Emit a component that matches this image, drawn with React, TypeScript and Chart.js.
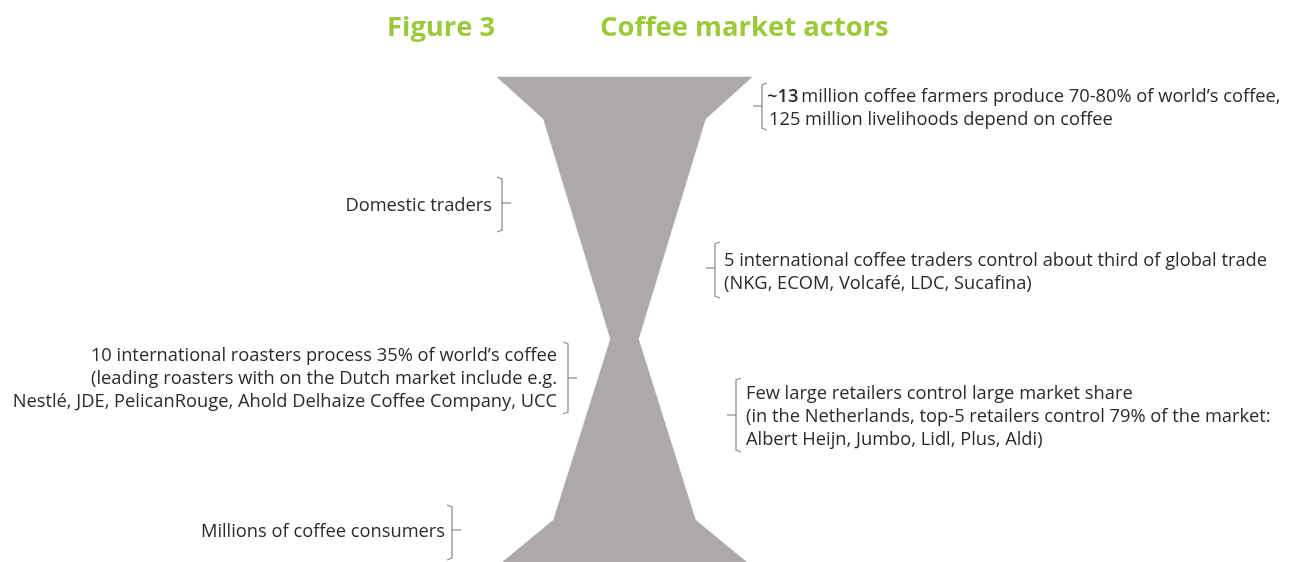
import React, { useEffect, useRef } from "react";
import { Chart, registerables } from "chart.js";

Chart.register(...registerables);

// ---------- DATA ----------
// Hourglass outline: vertical levels (top-down) and half-widths at each level
const shapeLevels = [77, 119, 339, 520, 562];
const shapeHalfWidths = [127.5, 81, 14, 71, 122];
const shapeCenter = 624.5;

const titleLabel = "Figure 3";
const titleText = "Coffee market actors";

const farmersLead = "~13";
const farmersLines = [
  "million coffee farmers produce 70-80% of world\u2019s coffee,",
  "125 million livelihoods depend on coffee",
];
const domesticLines = ["Domestic traders"];
const tradersLines = [
  "5 international coffee traders control about third of global trade",
  "(NKG, ECOM, Volcaf\u00e9, LDC, Sucafina)",
];
const roastersLines = [
  "10 international roasters process 35% of world\u2019s coffee",
  "(leading roasters with on the Dutch market include e.g.",
  "Nestl\u00e9, JDE, PelicanRouge, Ahold Delhaize Coffee Company, UCC",
];
const retailersLines = [
  "Few large retailers control large market share",
  "(in the Netherlands, top-5 retailers control 79% of the market:",
  "Albert Heijn, Jumbo, Lidl, Plus, Aldi)",
];
const consumersLines = ["Millions of coffee consumers"];

// ---------- LAYOUT / STYLE ----------
const W = 1297;
const H = 562;
const FONT = '"Open Sans", "Noto Sans", sans-serif';
const BODY_SIZE = 18.3;
const TITLE_SIZE = 27.4;
const LINE_GAP = 23.3;
const TEXT_DY = 1.5;
const TEXT_COLOR = "#2a2a2a";
const BRACKET_COLOR = "#8f8f8f";
const GREEN = "#9BC93A";
const SHAPE_COLOR = "#ADA9A8";

type Block = {
  lines: string[];
  lead?: string;
  side: "left" | "right";
  bx: number;
  top: number;
  bottom: number;
  tickY: number;
  textX: number;
  firstY: number;
};

const blocks: Block[] = [
  { lines: farmersLines, lead: farmersLead, side: "right", bx: 762, top: 83, bottom: 130, tickY: 106, textX: 767, firstY: 95 },
  { lines: domesticLines, side: "left", bx: 502, top: 177, bottom: 232, tickY: 203, textX: 492, firstY: 204 },
  { lines: tradersLines, side: "right", bx: 715, top: 242, bottom: 298, tickY: 268, textX: 724, firstY: 259 },
  { lines: roastersLines, side: "left", bx: 568, top: 342, bottom: 414, tickY: 378, textX: 557, firstY: 354 },
  { lines: retailersLines, side: "right", bx: 736, top: 378, bottom: 452, tickY: 415, textX: 746, firstY: 392 },
  { lines: consumersLines, side: "left", bx: 452, top: 505, bottom: 560, tickY: 530, textX: 445, firstY: 530 },
];

function buildOutline() {
  const pts: { x: number; y: number }[] = [];
  for (let i = 0; i < shapeLevels.length; i++) {
    pts.push({ x: shapeCenter - shapeHalfWidths[i], y: shapeLevels[i] });
  }
  for (let i = shapeLevels.length - 1; i >= 0; i--) {
    pts.push({ x: shapeCenter + shapeHalfWidths[i], y: shapeLevels[i] });
  }
  pts.push({ ...pts[0] });
  return pts;
}

const annotationPlugin = {
  id: "coffeeAnnotations",
  afterDatasetsDraw(chart: any) {
    const ctx: CanvasRenderingContext2D = chart.ctx;
    const xs = chart.scales.x;
    const ys = chart.scales.y;
    const px = (v: number) => xs.getPixelForValue(v);
    const py = (v: number) => ys.getPixelForValue(v);

    ctx.save();
    // Title
    ctx.fillStyle = GREEN;
    ctx.font = `bold ${TITLE_SIZE}px ${FONT}`;
    ctx.textBaseline = "alphabetic";
    ctx.textAlign = "left";
    ctx.fillText(titleLabel, px(387), py(36));
    ctx.fillText(titleText, px(600), py(36));

    for (const b of blocks) {
      // bracket
      const x = px(b.bx);
      const dir = b.side === "right" ? 1 : -1; // serif direction toward text
      ctx.strokeStyle = BRACKET_COLOR;
      ctx.lineWidth = 1.3;
      ctx.beginPath();
      ctx.moveTo(x + dir * 5, py(b.top));
      ctx.lineTo(x, py(b.top) + 2);
      ctx.lineTo(x, py(b.bottom) - 2);
      ctx.lineTo(x + dir * 5, py(b.bottom));
      ctx.stroke();
      ctx.beginPath();
      ctx.moveTo(x, py(b.tickY));
      ctx.lineTo(x - dir * 9, py(b.tickY));
      ctx.stroke();

      // text
      ctx.fillStyle = TEXT_COLOR;
      ctx.textBaseline = "middle";
      b.lines.forEach((line, i) => {
        const y = py(b.firstY + i * LINE_GAP) + TEXT_DY;
        if (b.side === "right") {
          ctx.textAlign = "left";
          let tx = px(b.textX);
          if (i === 0 && b.lead) {
            ctx.font = `600 ${BODY_SIZE}px ${FONT}`;
            ctx.fillText(b.lead, tx, y);
            tx += ctx.measureText(b.lead).width + 3;
          } else if (b.lead) {
            tx += 2;
          }
          ctx.font = `${BODY_SIZE}px ${FONT}`;
          ctx.fillText(line, tx, y);
        } else {
          ctx.textAlign = "right";
          ctx.font = `${BODY_SIZE}px ${FONT}`;
          ctx.fillText(line, px(b.textX), y);
        }
      });
    }
    ctx.restore();
  },
};

export default function App() {
  const ref = useRef<HTMLCanvasElement | null>(null);

  useEffect(() => {
    if (!ref.current) return;
    const chart = new Chart(ref.current, {
      type: "scatter",
      data: {
        datasets: [
          {
            data: buildOutline(),
            showLine: true,
            fill: "shape",
            backgroundColor: SHAPE_COLOR,
            borderColor: SHAPE_COLOR,
            borderWidth: 0.5,
            pointRadius: 0,
            tension: 0,
          } as any,
        ],
      },
      options: {
        animation: false,
        responsive: false,
        events: [],
        layout: { padding: 0 },
        plugins: { legend: { display: false }, tooltip: { enabled: false } },
        scales: {
          x: { type: "linear", min: 0, max: W, display: false },
          y: { type: "linear", min: 0, max: H, reverse: true, display: false },
        },
      },
      plugins: [annotationPlugin],
    });
    return () => chart.destroy();
  }, []);

  return (
    <div style={{ position: "fixed", left: 0, top: 0, width: W, height: H, background: "#fff" }}>
      <canvas ref={ref} width={W} height={H} style={{ width: W, height: H, display: "block" }} />
    </div>
  );
}
